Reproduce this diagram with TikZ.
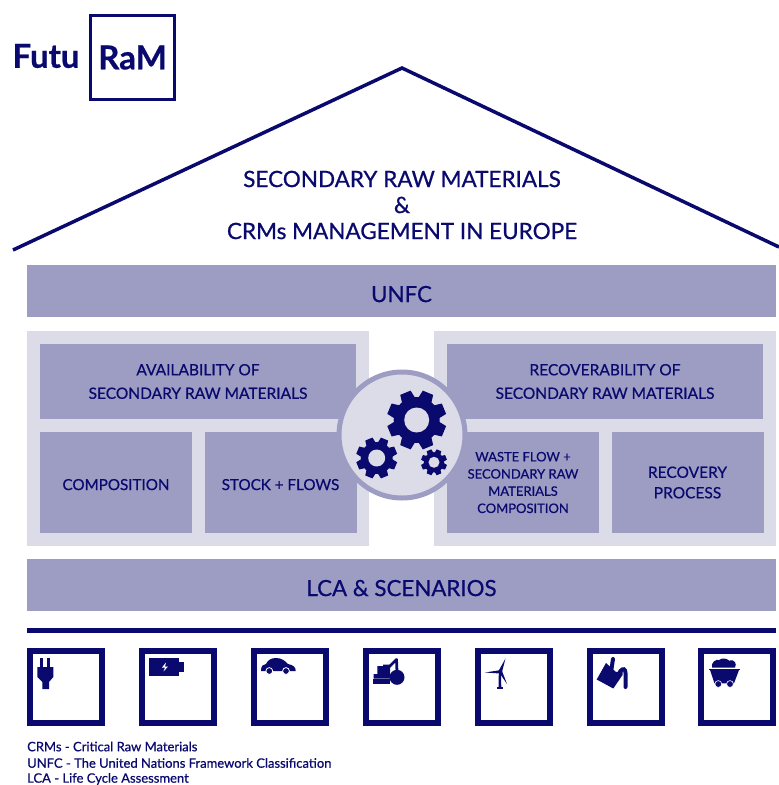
\documentclass[tikz,border=0pt]{standalone}
\usepackage{fontspec}
\setmainfont{Lato}[RawFeature={embolden=0.7}]
\definecolor{navy}{HTML}{0A0A6E}
\definecolor{boxblue}{HTML}{9D9DC4}
\definecolor{paleblue}{HTML}{DCDCE9}
\tikzset{
    panel/.style={fill=paleblue, draw=none},
    block/.style={fill=boxblue, text=navy, align=center, inner sep=0pt, outer sep=0pt, font=\fontsize{#1}{#1}\selectfont, execute at begin node={\rule{0pt}{1em}}},
    block/.default=15,
    wide/.style={block=22.3, minimum width=749pt, minimum height=52pt},
    head/.style={block=15.5, minimum width=316pt, minimum height=75pt},
    half/.style={minimum width=152pt, minimum height=101pt},
    tile/.style={draw=navy, line width=6pt, fill=white, minimum width=72pt, minimum height=72pt, inner sep=0pt},
    icon/.style={fill=navy, draw=none},
    legend/.style={text=navy, anchor=west, inner sep=0pt, font=\fontsize{13}{13}\selectfont},
}
% x y outer-radius hole-radius teeth
\newcommand{\drawgear}[5]{
    \fill[navy] (#1,#2) circle ({0.78*#3});
    \foreach \k in {1,...,#5}
        \fill[navy, shift={(#1,#2)}, rotate={(\k+0.5)*360/#5}]
            (-{0.24*#3},{0.7*#3}) -- (-{0.19*#3},#3) -- ({0.19*#3},#3) -- ({0.24*#3},{0.7*#3}) -- cycle;
    \fill[paleblue] (#1,#2) circle (#4);
}
\begin{document}
\begin{tikzpicture}[x=1pt, y=-1pt]
    \useasboundingbox (0,0) rectangle (779,785);

    % logo
    \node[text=navy, font=\fontsize{33}{33}\selectfont\bfseries, inner sep=0pt] (futu) at (46,56) {Futu};
    \node[draw=navy, line width=3pt, minimum width=84.5pt, minimum height=84.5pt, text=navy, inner sep=0pt, font=\fontsize{33}{33}\selectfont\bfseries] (ram) at (132.5,57.5) {RaM};

    % roof
    \coordinate (eaveL) at (13,250); \coordinate (ridge) at (402,68); \coordinate (eaveR) at (779,247);
    \draw[navy, line width=3.5pt] (eaveL) -- (ridge) -- (eaveR);
    \node[text=navy, align=center, font=\fontsize{22.5}{26}\selectfont, inner sep=0pt] (title) at (402,205)
        {SECONDARY RAW MATERIALS\\\&\\CRMs MANAGEMENT IN EUROPE};

    % bars and panels
    \node[wide] (unfc) at (401.5,291) {UNFC};
    \fill[panel] (27,331) rectangle (369,546);
    \fill[panel] (434,331) rectangle (776,546);
    \node[head] (avail) at (198,381.5) {AVAILABILITY OF\\[8pt]SECONDARY RAW MATERIALS};
    \node[head] (recov) at (605,381.5) {RECOVERABILITY OF\\[8pt]SECONDARY RAW MATERIALS};
    \node[block=15.2, half] (compo) at (116,482.5) {COMPOSITION};
    \node[block=15.2, half] (stock) at (280.5,482.5) {STOCK + FLOWS};
    \node[block=13, half] (waste) at (523,482.5) {WASTE FLOW +\\[4.2pt]SECONDARY RAW\\[4.2pt]MATERIALS\\[4.2pt]COMPOSITION};
    \node[block=15.5, half] (process) at (687.5,482.5) {RECOVERY\\[5pt]PROCESS};
    \node[wide] (lca) at (401.5,585) {LCA \& SCENARIOS};

    % gears
    \draw[fill=paleblue, draw=boxblue, line width=5pt] (402,435) circle (63);
    \drawgear{416.7}{420}{29.5}{12.5}{8}
    \drawgear{376.7}{458}{20.5}{8.5}{8}
    \drawgear{434}{462.3}{13}{5.5}{8}

    % floor line
    \coordinate (floorL) at (27,630); \coordinate (floorR) at (776,630);
    \draw[navy, line width=5pt] (floorL) -- (floorR);

    % tiles
    \node[tile] (plug) at (66,687) {};
    \node[tile] (battery) at (178,687) {};
    \node[tile] (car) at (290,687) {};
    \node[tile] (digger) at (401.5,687) {};
    \node[tile] (turbine) at (513.5,687) {};
    \node[tile] (bucket) at (625.5,687) {};
    \node[tile] (cart) at (737,687) {};

    % plug
    \fill[icon] (40,657.7) rectangle (43.3,668);
    \fill[icon] (46.7,657.7) rectangle (50,668);
    \fill[icon] (37.3,667) -- (53.3,667) -- (53.3,677) -- (49,682) -- (49,689) -- (42.3,689) -- (42.3,682) -- (37.3,677) -- cycle;

    % battery
    \fill[icon] (149.3,657.7) rectangle (179.3,675.7);
    \fill[icon] (179.3,661.7) rectangle (183.5,671.7);
    \fill[white] (166,662.5) -- (162,667.5) -- (165,667.5) -- (163.5,671.5) -- (168,666.5) -- (165,666.5) -- cycle;

    % car
    \fill[icon] (261,671) .. controls (261,665.5) and (263,664.5) .. (266,664)
        .. controls (268,660) and (271,658) .. (276,658)
        .. controls (282,658) and (285,661) .. (288,664)
        .. controls (293,665) and (296,667) .. (295.7,671) -- cycle;
    \foreach \wx in {269.3,286}
        \draw[icon, fill=navy, draw=white, line width=0.8pt] (\wx,671) circle (3.4);

    % digger
    \fill[icon] (373.3,679.3) rectangle (390,684);
    \fill[icon] (377.3,666) -- (383,666) -- (383,664.5) -- (390,664.5) -- (390,678.5) -- (373.5,678.5) -- (373.5,674) -- (377.3,674) -- cycle;
    \draw[navy, line width=2.8pt, line cap=round, line join=round] (386,670) -- (396.5,659.5) -- (397,672);
    \fill[icon] (397,677.3) circle (7.5);

    % turbine
    \fill[icon] (500,671.7) circle (1.8);
    \fill[icon] (498.5,671) -- (505.5,658.5) -- (502,672) -- cycle;
    \fill[icon] (501,670) -- (485,672.5) -- (500,673.5) -- cycle;
    \fill[icon] (499.5,673) -- (507,684) -- (502,671) -- cycle;
    \fill[icon] (498.8,673) -- (501,673) -- (501.3,687.5) -- (498.5,687.5) -- cycle;
    \fill[icon] (496.5,687.3) rectangle (503,689);

    % bucket
    \fill[icon] (606,663) -- (596.7,679.5) -- (613.3,688.5) -- (622.5,675) -- (622.5,671) -- (616,672) -- cycle;
    \draw[navy, line width=4pt, line cap=round] (613,659) -- (611,672);
    \draw[navy, line width=4pt, line cap=round] (620,671.5) .. controls (623,667.5) and (625.5,669) .. (625.5,673) -- (625.5,687);

    % cart
    \fill[icon] (710,670) -- (739,670) -- (734,683.3) -- (714.5,683.3) -- cycle;
    \fill[icon] (709,668.5) rectangle (739.5,669.5);
    \fill[icon] (712,667.5) .. controls (711,662) and (716,659) .. (719,660)
        .. controls (723,657) and (727,659) .. (729,660.5)
        .. controls (735,659) and (737,664) .. (735,667.5) -- cycle;
    \foreach \wx in {718.3,730}
        \draw[icon, fill=navy, draw=white, line width=0.6pt] (\wx,684) circle (3.4);

    % legend
    \node[legend] (crms) at (27,746.5) {CRMs - Critical Raw Materials};
    \node[legend] (unfcname) at (27,763) {UNFC - The United Nations Framework Classification};
    \node[legend] (lcaname) at (27,779) {LCA - Life Cycle Assessment};
\end{tikzpicture}
\end{document}
